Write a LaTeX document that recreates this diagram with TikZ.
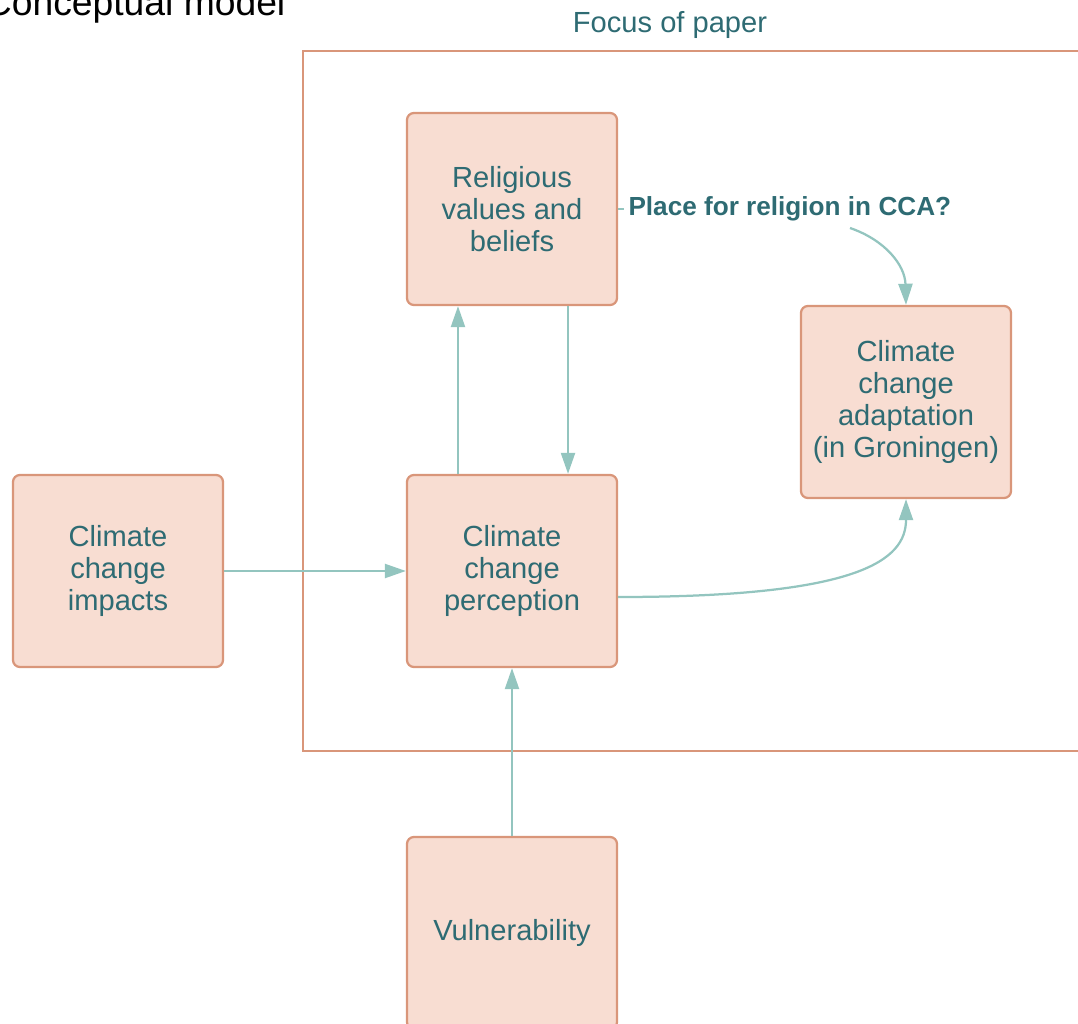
\documentclass[tikz,border=0pt]{standalone}
\usepackage{fontspec}
\setmainfont{Liberation Sans}
\usetikzlibrary{arrows.meta}
\definecolor{boxfill}{HTML}{F8DDD2}
\definecolor{boxline}{HTML}{D9967A}
\definecolor{arrowc}{HTML}{93C5BF}
\definecolor{textc}{HTML}{2E6B73}
\begin{document}
\begin{tikzpicture}[x=0.025cm, y=-0.025cm,
    box/.style={draw=boxline, line width=1.6pt, rectangle, rounded corners=5pt,
                fill=boxfill, minimum width=5.25cm, minimum height=4.8cm,
                text=textc, align=center, font=\fontsize{20.7}{22.7}\selectfont},
    conn/.style={draw=arrowc, line width=1.6pt},
    arr/.style={conn, -{Triangle[length=15pt, width=10pt]}}]
    \useasboundingbox (0,0) rectangle (1078,1024);
    \node[anchor=base west, font=\fontsize{26.5}{30}\selectfont] (title) at (-20,16) {Conceptual model};
    \node[text=textc, font=\fontsize{20.7}{22}\selectfont] (focus) at (670,25) {Focus of paper};
    \draw[boxline, line width=1.6pt] (1090,51) -| (303,751) -- (1090,751);
    \node[box] (rel)   at (512,209) {Religious\\values and\\beliefs};
    \node[box] (imp)   at (118,571) {Climate\\change\\impacts};
    \node[box] (perc)  at (512,571) {Climate\\change\\perception};
    \node[box] (adapt) at (906,402) {Climate\\change\\adaptation\\(in Groningen)};
    \node[box] (vul)   at (512,933) {Vulnerability};
    \node[anchor=west, inner xsep=3pt, text=textc,
          font=\bfseries\fontsize{18.6}{21}\selectfont] (lbl) at (624,209) {Place for religion in CCA?};
    \coordinate (q) at (850,228);
    \foreach \a/\b in {imp/perc, vul/perc}
        \draw[arr] (\a) -- (\b);
    \draw[arr] ([xshift=-1.35cm]perc.north) -- ([xshift=-1.35cm]rel.south);
    \draw[arr] ([xshift=1.4cm]rel.south) -- ([xshift=1.4cm]perc.north);
    \draw[conn] (rel.east) -- (lbl.west);
    \draw[arr] (q) .. controls (885,240) and (905,265) .. (adapt.north);
    \draw[arr] ([yshift=-0.65cm]perc.east) .. controls (860,597) and (906,560) .. (adapt.south);
\end{tikzpicture}
\end{document}
